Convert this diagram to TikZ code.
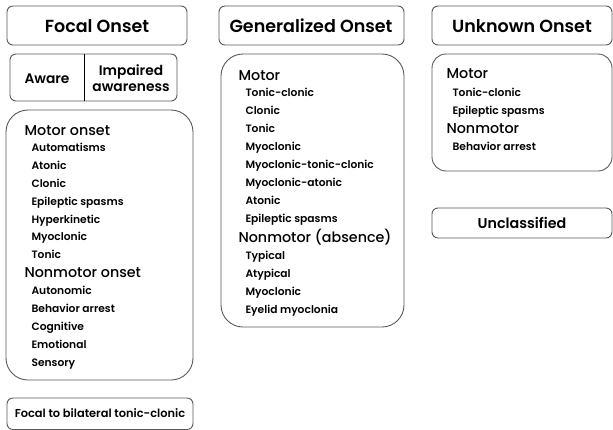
\documentclass[tikz,border=0pt]{standalone}
\usepackage{fontspec}
\setmainfont{Poppins}
\newfontfamily\psemi{Poppins SemiBold}
\newfontfamily\pmed{Poppins Medium}
\begin{document}
\begin{tikzpicture}[x=1pt,y=-1pt,
  box/.style={draw=black!65,line width=0.9pt,rounded corners=6pt},
  bigbox/.style={draw=black!65,line width=0.9pt,rounded corners=22pt},
  head/.style={anchor=center,font=\fontsize{17.5}{19}\psemi},
  sect/.style={anchor=base west,font=\fontsize{14.3}{16}\pmed},
  item/.style={anchor=base west,font=\fontsize{10.7}{12}\psemi},
  small/.style={anchor=center,font=\fontsize{13.8}{16.5}\psemi,align=center}]
\useasboundingbox (0,0) rectangle (613,429);
% Focal column
\draw[box] (7,6) rectangle (187,45);
\node[head] (fo) at (97,26) {Focal Onset};
\draw[box] (10,54) rectangle (177,101);
\draw[line width=0.9pt] (84,54) -- (84,101);
\node[small] (aw) at (47,79) {Aware};
\node[small] (ia) at (131,78) {Impaired\\awareness};
\draw[bigbox] (6,110) rectangle (193,380);
\node[sect] (fm) at (21,135) {Motor onset};
\foreach \t [count=\i] in {Automatisms,Atonic,Clonic,Epileptic spasms,Hyperkinetic,Myoclonic,Tonic}
  \node[item] (f\i) at (28,134+17.8*\i) {\t};
\node[sect] (fn) at (21,277) {Nonmotor onset};
\foreach \t [count=\i] in {Autonomic,Behavior arrest,Cognitive,Emotional,Sensory}
  \node[item] (g\i) at (28,276+18*\i) {\t};
\draw[box] (7,398) rectangle (193,429.5);
\node[small,font=\fontsize{11.4}{13}\psemi] (fb) at (100,413) {Focal to bilateral tonic-clonic};
% Generalized column
\draw[box] (219,6) rectangle (404,45);
\node[head] (go) at (311,26) {Generalized Onset};
\draw[bigbox] (221,54) rectangle (404,327);
\node[sect] (gm) at (235,80) {Motor};
\foreach \t [count=\i] in {Tonic-clonic,Clonic,Tonic,Myoclonic,Myoclonic-tonic-clonic,Myoclonic-atonic,Atonic,Epileptic spasms}
  \node[item] (h\i) at (242,79+17.9*\i) {\t};
\node[sect] (gn) at (235,242) {Nonmotor (absence)};
\foreach \t [count=\i] in {Typical,Atypical,Myoclonic,Eyelid myoclonia}
  \node[item] (k\i) at (242,241+18*\i) {\t};
% Unknown column
\draw[box] (432,6) rectangle (612,45);
\node[head] (uo) at (522,26) {Unknown Onset};
\draw[box,rounded corners=14pt] (432,54) rectangle (612,171);
\node[sect] (um) at (443,78) {Motor};
\node[item] (u1) at (449,96) {Tonic-clonic};
\node[item] (u2) at (449,114) {Epileptic spasms};
\node[sect] (un) at (443,133) {Nonmotor};
\node[item] (u3) at (449,150) {Behavior arrest};
\draw[box] (432,208) rectangle (612,238);
\node[small,font=\fontsize{14.3}{16}\psemi] (uc) at (522,223) {Unclassified};
\end{tikzpicture}
\end{document}
